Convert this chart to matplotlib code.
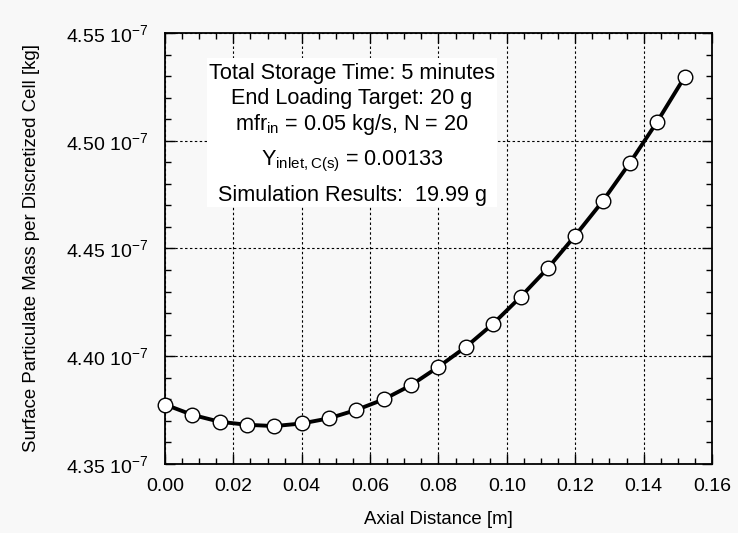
import matplotlib
matplotlib.use("Agg")
import matplotlib.pyplot as plt
from matplotlib.ticker import MultipleLocator, FixedLocator, FuncFormatter
from matplotlib.patches import Rectangle

plt.rcParams['font.family'] = ['Liberation Sans', 'DejaVu Sans']
plt.rcParams['mathtext.fontset'] = 'custom'
plt.rcParams['mathtext.rm'] = 'Liberation Sans'
plt.rcParams['mathtext.it'] = 'Liberation Sans:italic'
plt.rcParams['mathtext.bf'] = 'Liberation Sans:bold'

# Axial position of each discretized cell [m]
axial_distance = [0.000, 0.008, 0.016, 0.024, 0.032, 0.040, 0.048, 0.056, 0.064, 0.072,
                  0.080, 0.088, 0.096, 0.104, 0.112, 0.120, 0.128, 0.136, 0.144, 0.152]
# Surface particulate mass per cell, in units of 1e-7 kg
surface_mass_e7 = [4.3776, 4.3728, 4.3696, 4.3682, 4.3676, 4.3688, 4.3712, 4.3751, 4.3800, 4.3866,
                   4.3951, 4.4043, 4.4151, 4.4275, 4.4409, 4.4560, 4.4719, 4.4898, 4.5089, 4.5296]

x_ticks = [0.00, 0.02, 0.04, 0.06, 0.08, 0.10, 0.12, 0.14, 0.16]
y_ticks = [4.35, 4.40, 4.45, 4.50, 4.55]

info_lines = [
    "Total Storage Time: 5 minutes",
    "End Loading Target: 20 g",
    r"mfr$_{\mathrm{in}}$ = 0.05 kg/s, N = 20",
    r"Y$_{\mathrm{inlet,C(s)}}$ = 0.00133",
    "Simulation Results:  19.99 g",
]

bg = '#f8f8f8'
fig = plt.figure(figsize=(7.38, 5.33), dpi=100, facecolor=bg)
ax = fig.add_axes([165/738, 1 - 464/533, (712 - 165)/738, (464 - 33)/533])
ax.set_facecolor(bg)

ax.plot(axial_distance, surface_mass_e7, color='black', lw=2.8, zorder=4,
        marker='o', markersize=10.5, markerfacecolor='white',
        markeredgecolor='black', markeredgewidth=1.0, clip_on=False)

ax.set_xlim(0.0, 0.16)
ax.set_ylim(4.35, 4.55)
ax.xaxis.set_major_locator(FixedLocator(x_ticks))
ax.yaxis.set_major_locator(FixedLocator(y_ticks))
ax.xaxis.set_minor_locator(MultipleLocator(0.005))
ax.yaxis.set_minor_locator(MultipleLocator(0.01))
ax.xaxis.set_major_formatter(FuncFormatter(lambda v, p: f"{v:.2f}"))
ax.yaxis.set_major_formatter(FuncFormatter(lambda v, p: f"{v:.2f} 10$^{{-7}}$"))

ax.tick_params(which='both', direction='in', top=True, right=True, color='black')
ax.tick_params(which='major', length=7, width=1.0)
ax.tick_params(which='minor', length=4.5, width=1.0)
ax.tick_params(axis='x', which='major', labelsize=14, pad=10)
ax.tick_params(axis='y', which='major', labelsize=14, pad=12)

for s in ax.spines.values():
    s.set_linewidth(1.3)
    s.set_color('black')

ax.set_axisbelow(True)
ax.grid(True, which='major', color='black', linestyle=(0, (2.2, 2.2)), linewidth=0.8)

# White annotation panel with run parameters
box_x0, box_x1 = (207 - 165)/547, (497 - 165)/547
box_y0, box_y1 = (464 - 206)/432, (464 - 57)/432
ax.add_patch(Rectangle((box_x0, box_y0), box_x1 - box_x0, box_y1 - box_y0,
                       transform=ax.transAxes, facecolor='white', edgecolor='none', zorder=2))
baselines = [(464 - b)/432 for b in (77.7, 103.3, 129.3, 165.0, 200.0)]
for txt, yb in zip(info_lines, baselines):
    ax.text((352 - 165)/547, yb, txt, transform=ax.transAxes, ha='center', va='baseline',
            fontsize=15.6, color='black', zorder=3)

ax.set_xlabel("Axial Distance [m]", fontsize=13.4)
ax.set_ylabel("Surface Particulate Mass per Discretized Cell [kg]", fontsize=13.4)
ax.xaxis.set_label_coords(0.5, (464 - 511)/432)
ax.yaxis.set_label_coords((40 - 165)/547, 0.5)

fig.savefig("out.png", dpi=100, facecolor=bg)
